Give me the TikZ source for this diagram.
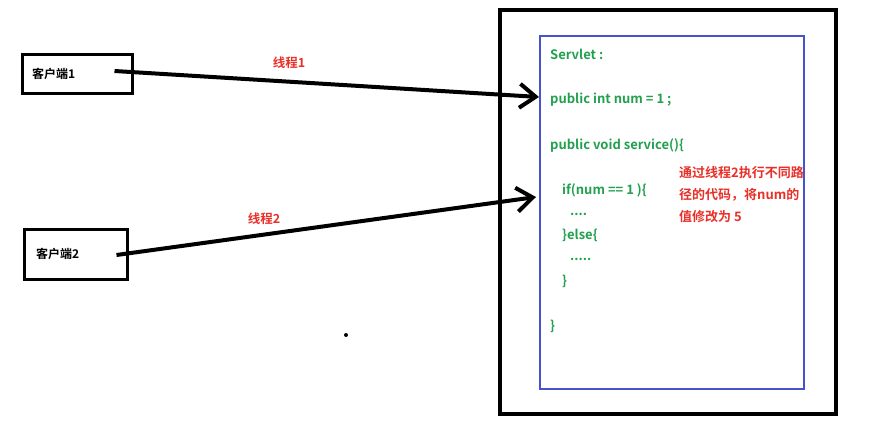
\documentclass[tikz,border=0pt]{standalone}
\usepackage{fontspec}
\setmainfont{Noto Sans CJK SC Bold}
\usetikzlibrary{arrows.meta}
\definecolor{codegreen}{RGB}{34,160,78}
\definecolor{notered}{RGB}{232,48,40}
\definecolor{boxblue}{RGB}{70,84,204}
\tikzset{
  client/.style={draw, line width=3pt, minimum height=#1, align=left, font=\fontsize{12}{14}\selectfont},
  code/.style={anchor=west, inner sep=0pt, text=codegreen, font=\fontsize{13}{15}\selectfont},
  thread/.style={line width=4pt, -{Straight Barb[length=16pt,width=24pt,line width=4pt]}},
  label/.style={text=notered, font=\fontsize{13}{22}\selectfont}
}
\begin{document}
\begin{tikzpicture}[x=1pt, y=-1pt]
\useasboundingbox (0,0) rectangle (893,436);
\coordinate (in1) at (539,97);
\coordinate (in2) at (536,197);
\draw[line width=3.5pt] (500,10) rectangle (836,414);
\draw[boxblue, line width=2pt] (540,36) rectangle (804,389);
\node[client=38pt, inner xsep=10pt, text width=90pt] (c1) at (77,74) {客户端1};
\node[client=50pt, inner xsep=12pt, text width=79pt] (c2) at (75.5,254) {客户端2};
% code in the servlet
\node[code] (l1) at (550,54) {Servlet :};
\node[code] (l2) at (550,100) {public int num = 1 ;};
\node[code] (l3) at (550,145) {public void service()\{};
\node[code] (l4) at (562,190) {if(num == 1 )\{};
\node[code] (l5) at (570,214) {....};
\node[code] (l6) at (562,235) {\}else\{};
\node[code] (l7) at (570,259) {.....};
\node[code] (l8) at (562,281) {\}};
\node[code] (l9) at (550,326) {\}};
\node[label, anchor=north west, inner sep=0pt, align=left] (note) at (679,166)
  {通过线程2执行不同路\\径的代码，将num的\\值修改为 5};
% threads
\draw[thread] ([xshift=-19pt,yshift=3pt]c1.east) -- (in1);
\draw[thread] ([xshift=-12pt,yshift=-1pt]c2.east) -- (in2);
\node[label, font=\fontsize{12.5}{14}\selectfont] (t1) at (289,63) {线程1};
\node[label, font=\fontsize{12.5}{14}\selectfont] (t2) at (264,219) {线程2};
\fill (346,335) circle (2pt);
\end{tikzpicture}
\end{document}
